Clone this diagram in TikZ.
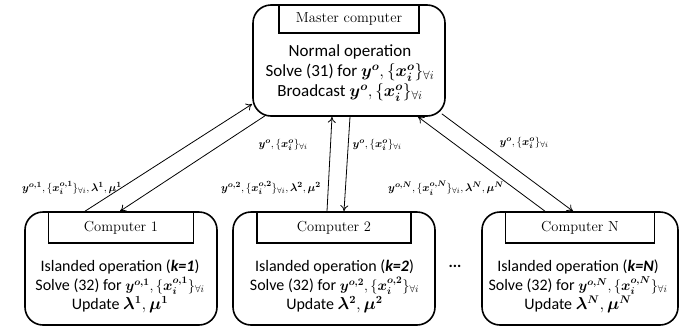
\documentclass[tikz,border=0pt]{standalone}
\usepackage{fontspec}
\usepackage{bm}
\newfontfamily\bodyf{Carlito}
\newcommand\smm[1]{{\fontsize{14.5}{16}\selectfont$#1$}}
\usetikzlibrary{calc,arrows.meta}
\tikzset{
 bigbox/.style={draw, line width=1.6pt, rounded corners=18pt, inner sep=0pt},
 titlebox/.style={draw, line width=1.3pt, inner sep=0pt, font=\fontsize{14.5}{16}\selectfont},
 bodytext/.style={align=center, font=\bodyf\fontsize{16}{19}\selectfont, inner sep=0pt},
 masterbody/.style={align=center, font=\bodyf\fontsize{17}{20}\selectfont, inner sep=0pt},
 lbl/.style={inner sep=0pt, font=\fontsize{11.4}{13}\selectfont},
 conn/.style={line width=0.8pt, -{To[length=6pt,width=8pt]}},
}
\begin{document}
\begin{tikzpicture}[x=1pt,y=-1pt]
\useasboundingbox (0,0) rectangle (685,327);
% master
\node[bigbox, minimum width=192pt, minimum height=111pt] (master) at (349,60.5) {};
\node[titlebox, minimum width=140pt, minimum height=28pt, anchor=north] (mt) at (master.north) {Master computer};
\node[masterbody] (mbody) at (350,73) {Normal operation\\Solve (31) for $\bm{y^o},\{\bm{x_i^o}\}_{\forall i}$\\Broadcast $\bm{y^o},\{\bm{x_i^o}\}_{\forall i}$};
% computers
\node[bigbox, minimum width=192pt, minimum height=113pt] (c1) at (121,268.5) {};
\node[titlebox, minimum width=145pt, minimum height=31pt, anchor=north] (c1t) at (c1.north) {Computer 1};
\node[bodytext] (c1body) at (120,286.5) {Islanded operation (\textbf{\textit{k=1}})\\Solve (32) for \smm{\bm{y^{o,1}},\{\bm{x_i^{o,1}}\}_{\forall i}}\\Update $\bm{\lambda^1},\bm{\mu^1}$};
\node[bigbox, minimum width=202pt, minimum height=113pt] (c2) at (334,268.5) {};
\node[titlebox, minimum width=154pt, minimum height=31pt, anchor=north] (c2t) at (c2.north) {Computer 2};
\node[bodytext] (c2body) at (334.5,286.5) {Islanded operation (\textbf{\textit{k=2}})\\Solve (32) for \smm{\bm{y^{o,2}},\{\bm{x_i^{o,2}}\}_{\forall i}}\\Update $\bm{\lambda^2},\bm{\mu^2}$};
\node[bigbox, minimum width=196pt, minimum height=113pt] (cn) at (580,268.5) {};
\node[titlebox, minimum width=149pt, minimum height=31pt, anchor=north] (cnt) at (cn.north) {Computer N};
\node[bodytext] (cnbody) at (578,286.5) {Islanded operation (\textbf{\textit{k=N}})\\Solve (32) for \smm{\bm{y^{o,N}},\{\bm{x_i^{o,N}}\}_{\forall i}}\\Update $\bm{\lambda^N},\bm{\mu^N}$};
\node[bodytext] (dots) at (455,266) {\textbf{...}};
% connectors
\draw[conn] ($(c1.north)+(-36,0)$) -- ($(master.west)+(0,43.5)$);
\draw[conn] ($(master.south)+(-84,-1)$) -- ($(c1.north)+(-1,0)$);
\draw[conn] ($(c2.north)+(-7,0)$) -- ($(master.south)+(-17,0)$);
\draw[conn] ($(master.south)+(1,0)$) -- ($(c2.north)+(10,0)$);
\draw[conn] ($(cn.north)+(-35,0)$) -- ($(master.south)+(69,0)$);
\draw[conn] ($(master.south east)+(-4,-3)$) -- ($(cn.north)+(-7,0)$);
% labels
\node[lbl] (l1) at (72,188) {$\bm{y^{o,1}},\{\bm{x_i^{o,1}}\}_{\forall i},\bm{\lambda^1},\bm{\mu^1}$};
\node[lbl] (u1) at (283,145) {$\bm{y^o},\{\bm{x_i^o}\}_{\forall i}$};
\node[lbl] (l2) at (271,188) {$\bm{y^{o,2}},\{\bm{x_i^{o,2}}\}_{\forall i},\bm{\lambda^2},\bm{\mu^2}$};
\node[lbl] (u2) at (377,145) {$\bm{y^o},\{\bm{x_i^o}\}_{\forall i}$};
\node[lbl] (ln) at (446,188) {$\bm{y^{o,N}},\{\bm{x_i^{o,N}}\}_{\forall i},\bm{\lambda^N},\bm{\mu^N}$};
\node[lbl] (un) at (524,143) {$\bm{y^o},\{\bm{x_i^o}\}_{\forall i}$};
\end{tikzpicture}
\end{document}
